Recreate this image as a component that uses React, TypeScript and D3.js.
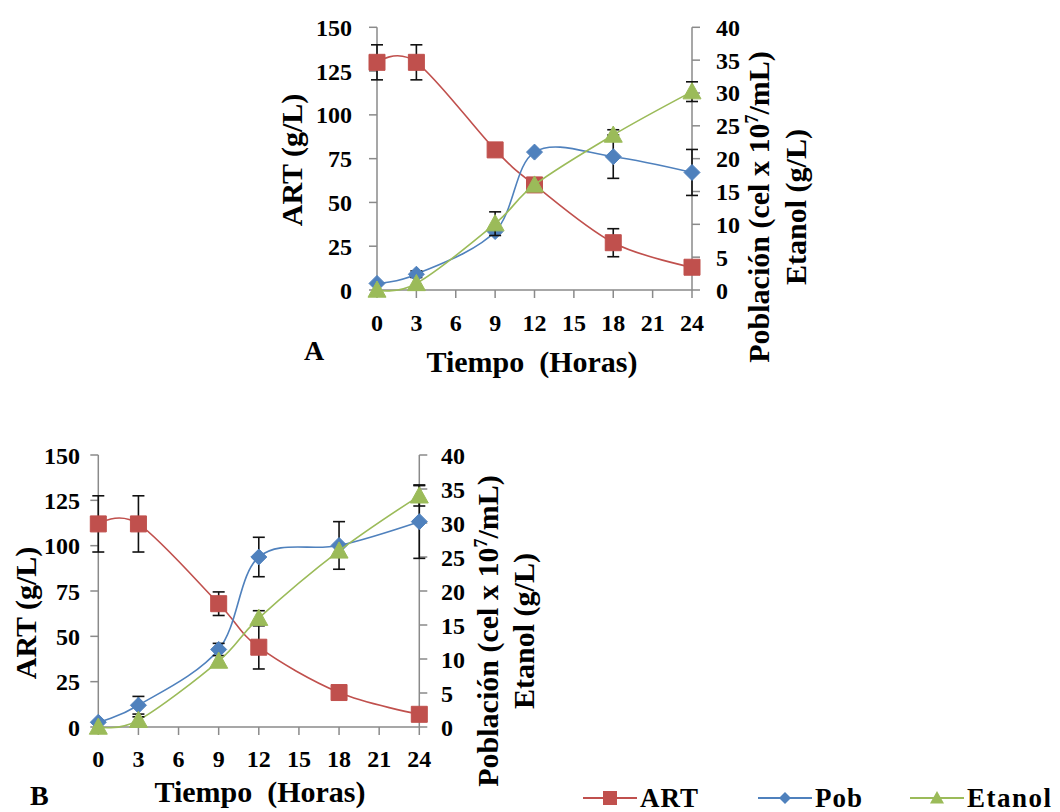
import React from 'react';
import * as d3 from 'd3';

// sampling times (hours)
const hours = [0, 3, 9, 12, 18, 24];

// panel A
const artA = [130, 130, 80, 60, 27, 13];
const artAErr = [10, 10, 0, 0, 8, 0];
const pobA = [1, 2.4, 8.9, 21, 20.3, 17.9];
const pobAErr = [0, 0.5, 0, 0, 3.3, 3.5];
const etaA = [0, 1, 10.1, 16, 23.6, 30.2];
const etaAErr = [0, 0, 1.8, 0, 0.8, 1.5];

// panel B
const artB = [112, 112, 68, 44, 19, 7];
const artBErr = [15.5, 15.5, 6.5, 12, 3.5, 0];
const pobB = [0.7, 3.2, 11.4, 25, 26.7, 30.2];
const pobBErr = [0, 1.3, 0.9, 2.9, 3.5, 5.4];
const etaB = [0, 1, 9.7, 16, 25.9, 34];
const etaBErr = [0, 0.5, 0, 1.1, 0, 1.5];

const leftTicks = [0, 25, 50, 75, 100, 125, 150];
const rightTicks = [0, 5, 10, 15, 20, 25, 30, 35, 40];
const xTicks = [0, 3, 6, 9, 12, 15, 18, 21, 24];

const legendItems = ['ART', 'Pob', 'Etanol'];

const RED = '#C0504D';
const BLUE = '#4F81BD';
const GREEN = '#9BBB59';
const AXIS = '#8a8a8a';
const FONT = '"Liberation Serif", "Times New Roman", serif';

type Panel = {
  label: string;
  x0: number; x1: number; yTop: number; yBot: number;
  leftLabelX: number; rightLabelX: number;
  artTitle: [number, number];
  pobX: number; etaX: number; rightTitleY: number;
  xLabelY: number; xTitleY: number; xTitleX: number;
  letterX: number; letterY: number;
  art: number[]; artErr: number[];
  pob: number[]; pobErr: number[];
  eta: number[]; etaErr: number[];
};

const panels: Panel[] = [
  {
    label: 'A', x0: 377, x1: 692, yTop: 27.3, yBot: 290,
    leftLabelX: 352, rightLabelX: 716,
    artTitle: [291, 160], pobX: 758, etaX: 795, rightTitleY: 207,
    xLabelY: 331, xTitleY: 372, xTitleX: 532, letterX: 304, letterY: 360,
    art: artA, artErr: artAErr, pob: pobA, pobErr: pobAErr, eta: etaA, etaErr: etaAErr,
  },
  {
    label: 'B', x0: 98.3, x1: 419.3, yTop: 455, yBot: 727,
    leftLabelX: 80, rightLabelX: 441,
    artTitle: [25, 613], pobX: 487, etaX: 523, rightTitleY: 631,
    xLabelY: 767, xTitleY: 802, xTitleX: 260, letterX: 30, letterY: 805,
    art: artB, artErr: artBErr, pob: pobB, pobErr: pobBErr, eta: etaB, etaErr: etaBErr,
  },
];

const square = (s: number) => `M${-s},${-s}H${s}V${s}H${-s}Z`;
const diamond = (s: number) => `M0,${-s}L${s},0L0,${s}L${-s},0Z`;
const triangle = (s: number) => `M0,${-s}L${s},${s * 0.8}L${-s},${s * 0.8}Z`;

function Series({ xs, ys, vals, errs, color, marker }: {
  xs: d3.ScaleLinear<number, number>; ys: d3.ScaleLinear<number, number>;
  vals: number[]; errs: number[]; color: string; marker: string;
}) {
  const line = d3.line<number>()
    .x((_, i) => xs(hours[i]))
    .y(d => ys(d))
    .curve(d3.curveCatmullRom.alpha(0));
  return (
    <g>
      <path d={line(vals) || ''} fill="none" stroke={color} strokeWidth={1.6} />
      {vals.map((v, i) => errs[i] > 0 ? (
        <g key={'e' + i} stroke="#111" strokeWidth={1.6}>
          <line x1={xs(hours[i])} x2={xs(hours[i])} y1={ys(v - errs[i])} y2={ys(v + errs[i])} />
          <line x1={xs(hours[i]) - 6} x2={xs(hours[i]) + 6} y1={ys(v - errs[i])} y2={ys(v - errs[i])} />
          <line x1={xs(hours[i]) - 6} x2={xs(hours[i]) + 6} y1={ys(v + errs[i])} y2={ys(v + errs[i])} />
        </g>
      ) : null)}
      {vals.map((v, i) => (
        <path key={'m' + i} d={marker} transform={`translate(${xs(hours[i])},${ys(v)})`} fill={color} stroke={color} strokeWidth={1} />
      ))}
    </g>
  );
}

function Chart({ p }: { p: Panel }) {
  const x = d3.scaleLinear().domain([0, 24]).range([p.x0, p.x1]);
  const yL = d3.scaleLinear().domain([0, 150]).range([p.yBot, p.yTop]);
  const yR = d3.scaleLinear().domain([0, 40]).range([p.yBot, p.yTop]);
  return (
    <g fontFamily={FONT} fontWeight="bold" fill="#000">
      {/* axes */}
      <g stroke={AXIS} strokeWidth={1.5}>
        <line x1={p.x0} x2={p.x0} y1={p.yTop} y2={p.yBot} />
        <line x1={p.x1} x2={p.x1} y1={p.yTop} y2={p.yBot} />
        <line x1={p.x0} x2={p.x1} y1={p.yBot} y2={p.yBot} />
        {leftTicks.map(t => <line key={'l' + t} x1={p.x0 - 8} x2={p.x0} y1={yL(t)} y2={yL(t)} />)}
        {rightTicks.map(t => <line key={'r' + t} x1={p.x1} x2={p.x1 + 8} y1={yR(t)} y2={yR(t)} />)}
        {xTicks.map(t => <line key={'x' + t} x1={x(t)} x2={x(t)} y1={p.yBot} y2={p.yBot + 8} />)}
      </g>
      <g fontSize={24}>
        {leftTicks.map(t => <text key={'lt' + t} x={p.leftLabelX} y={yL(t) + 8.5} textAnchor="end">{t}</text>)}
        {rightTicks.map(t => <text key={'rt' + t} x={p.rightLabelX} y={yR(t) + 8.5}>{t}</text>)}
        {xTicks.map(t => <text key={'xt' + t} x={x(t)} y={p.xLabelY} textAnchor="middle">{t}</text>)}
      </g>
      <g fontSize={30}>
        <text transform={`translate(${p.artTitle[0]},${p.artTitle[1]}) rotate(-90)`} textAnchor="middle" dy="0.35em">ART (g/L)</text>
        <text transform={`translate(${p.pobX},${p.rightTitleY}) rotate(-90)`} textAnchor="middle" dy="0.35em">
          Población  (cel x 10<tspan fontSize={18} dy="-11">7</tspan><tspan dy="11">/mL)</tspan>
        </text>
        <text transform={`translate(${p.etaX},${p.rightTitleY}) rotate(-90)`} textAnchor="middle" dy="0.35em">Etanol  (g/L)</text>
        <text x={p.xTitleX} y={p.xTitleY} textAnchor="middle" style={{ whiteSpace: 'pre' }}>Tiempo  (Horas)</text>
        <text x={p.letterX} y={p.letterY} fontSize={28}>{p.label}</text>
      </g>
      <Series xs={x} ys={yL} vals={p.art} errs={p.artErr} color={RED} marker={square(8)} />
      <Series xs={x} ys={yR} vals={p.pob} errs={p.pobErr} color={BLUE} marker={diamond(8)} />
      <Series xs={x} ys={yR} vals={p.eta} errs={p.etaErr} color={GREEN} marker={triangle(9)} />
    </g>
  );
}

function Legend() {
  const colors = [RED, BLUE, GREEN];
  const markers = [square(7), diamond(6), triangle(7)];
  const lineX = [583, 758, 910];
  const y = 798;
  return (
    <g fontFamily={FONT} fontWeight="bold" fontSize={27}>
      {legendItems.map((name, i) => (
        <g key={name}>
          <line x1={lineX[i]} x2={lineX[i] + 54} y1={y} y2={y} stroke={colors[i]} strokeWidth={2} />
          <path d={markers[i]} transform={`translate(${lineX[i] + 27},${y})`} fill={colors[i]} />
          <text x={lineX[i] + 57} y={y + 9} letterSpacing={name === 'Etanol' ? 1.5 : 1}>{name}</text>
        </g>
      ))}
    </g>
  );
}

export default function App() {
  return (
    <svg width={1060} height={812} style={{ position: 'absolute', left: 0, top: 0, background: '#fff' }}>
      <rect width={1060} height={812} fill="#fff" />
      {panels.map(p => <Chart key={p.label} p={p} />)}
      <Legend />
    </svg>
  );
}
